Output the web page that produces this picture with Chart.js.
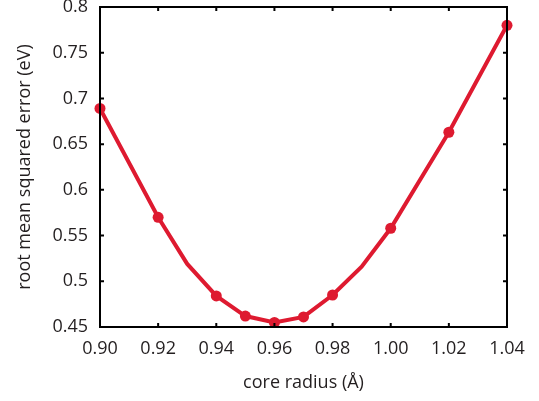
<!DOCTYPE html>
<html>
<head>
<meta charset="utf-8">
<script src="https://cdn.jsdelivr.net/npm/chart.js@4/dist/chart.umd.min.js"></script>
<style>
  html, body { margin: 0; padding: 0; background: #fff; }
  #wrap { width: 539px; height: 401px; }
</style>
</head>
<body>
<div id="wrap"><canvas id="rmseChart"></canvas></div>
<script>
  // 数据
  const coreRadius = [0.90, 0.92, 0.93, 0.94, 0.95, 0.96, 0.97, 0.98, 0.99, 1.00, 1.02, 1.04];
  const rmse = [0.689, 0.570, 0.519, 0.484, 0.462, 0.455, 0.461, 0.485, 0.516, 0.558, 0.663, 0.780];
  // 没有圆点的样本
  const noMarker = [0.93, 0.99];

  const xMin = 0.90, xMax = 1.04, xStep = 0.02;
  const yMin = 0.45, yMax = 0.80, yStep = 0.05;

  const red = '#de1a30';
  const font = { family: '"Open Sans", sans-serif', size: 18 };

  // 边框和向内的刻度
  const frame = {
    id: 'frame',
    afterDraw(chart) {
      const { ctx, chartArea: a, scales } = chart;
      ctx.save();
      ctx.strokeStyle = '#000';
      ctx.lineWidth = 2;
      ctx.strokeRect(a.left, a.top, a.right - a.left, a.bottom - a.top);
      ctx.beginPath();
      scales.x.ticks.forEach(t => {
        const px = scales.x.getPixelForValue(t.value);
        ctx.moveTo(px, a.bottom); ctx.lineTo(px, a.bottom - 4);
        ctx.moveTo(px, a.top); ctx.lineTo(px, a.top + 4);
      });
      scales.y.ticks.forEach(t => {
        const py = scales.y.getPixelForValue(t.value);
        ctx.moveTo(a.left, py); ctx.lineTo(a.left + 4, py);
        ctx.moveTo(a.right, py); ctx.lineTo(a.right - 4, py);
      });
      ctx.stroke();
      ctx.restore();
    }
  };

  new Chart(document.getElementById('rmseChart'), {
    type: 'scatter',
    data: {
      datasets: [{
        data: coreRadius.map((x, i) => ({ x: x, y: rmse[i] })),
        showLine: true,
        borderColor: red,
        backgroundColor: red,
        borderWidth: 4,
        pointRadius: c => noMarker.includes(coreRadius[c.dataIndex]) ? 0 : 5.5,
        pointBorderWidth: 0,
        clip: false
      }]
    },
    options: {
      responsive: true,
      maintainAspectRatio: false,
      animation: false,
      layout: { padding: { top: 7, right: 32, left: 0, bottom: 0 } },
      plugins: { legend: { display: false }, tooltip: { enabled: false } },
      scales: {
        x: {
          type: 'linear',
          min: xMin, max: xMax,
          afterFit: s => { s.height = 74; },
          grid: { display: false, drawTicks: false },
          border: { display: false },
          ticks: {
            stepSize: xStep,
            color: '#231f20',
            font: font,
            padding: 11,
            maxRotation: 0,
            callback: v => v.toFixed(2)
          },
          title: {
            display: true,
            text: 'core radius (Å)',
            color: '#231f20',
            font: font,
            padding: { top: 0, bottom: 7 }
          }
        },
        y: {
          min: yMin, max: yMax,
          afterFit: s => { s.width = 100; s.paddingTop = 0; s.paddingBottom = 0; },
          grid: { display: false, drawTicks: false },
          border: { display: false },
          ticks: {
            stepSize: yStep,
            color: '#231f20',
            font: font,
            padding: 12,
            callback: v => String(+v.toFixed(2))
          },
          title: {
            display: true,
            text: 'root mean squared error (eV)',
            color: '#231f20',
            font: font,
            padding: { top: 14, bottom: 0 }
          }
        }
      }
    },
    plugins: [frame]
  });
</script>
</body>
</html>
